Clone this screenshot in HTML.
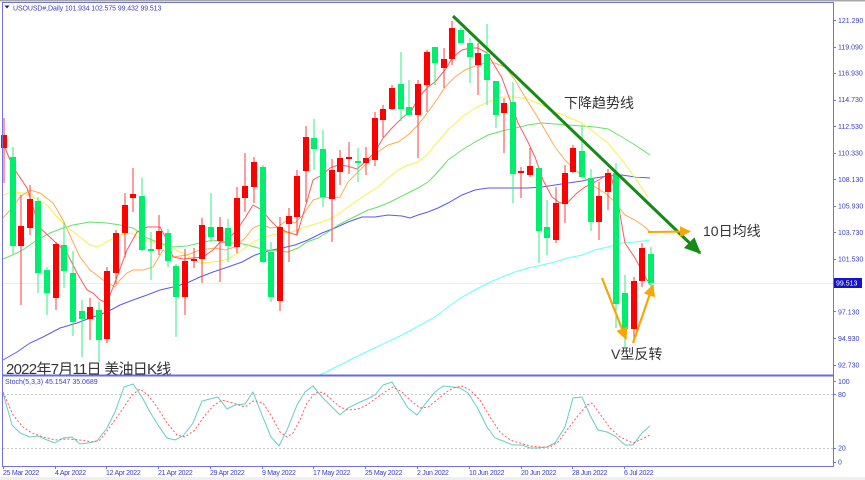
<!DOCTYPE html>
<html><head><meta charset="utf-8"><style>
html,body{margin:0;padding:0;background:#fff;}
body{width:865px;height:480px;overflow:hidden;}
svg{display:block;}
.ax{font-family:"Liberation Sans",sans-serif;font-size:7px;fill:#3c3ccc;}
.cn{font-family:"Liberation Sans","Noto Sans CJK SC",sans-serif;fill:#333;}
</style></head><body>
<svg width="865" height="480" viewBox="0 0 865 480" xmlns="http://www.w3.org/2000/svg">
<defs>
<marker id="ag" markerWidth="6" markerHeight="6" refX="5" refY="3" orient="auto" markerUnits="strokeWidth"><path d="M0,0.5 L5.5,3 L0,5.5 Z" fill="#158a15"/></marker>
<marker id="ao" markerWidth="6" markerHeight="6" refX="5" refY="3" orient="auto" markerUnits="strokeWidth"><path d="M0,0.3 L5.5,3 L0,5.7 Z" fill="#f6a800"/></marker>
</defs>
<rect x="0" y="0" width="865" height="480" fill="#fff"/>
<rect x="0" y="0" width="865" height="1.5" fill="#a8a8a8"/>
<rect x="0" y="477" width="865" height="3" fill="#efefef"/>

<!-- close price line -->
<line x1="3" y1="283.5" x2="833" y2="283.5" stroke="#e4f0f0" stroke-width="1"/>

<!-- moving averages -->
<g fill="none" stroke-width="1">
<polyline stroke="#66ffff" points="318,376 360,355 402,335 435,317 448,307 462,297 475,290 488,283 502,277 515,272 528,268 542,265 555,262 568,258 582,255 595,250 608,247 622,243 635,242 650,240"/>
<polyline stroke="#5a5aee" points="3,360 17,352 30,343 43,337 60,328 77,323 93,317 107,312 120,305 133,300 147,295 160,290 173,287 187,283 200,277 213,272 228,267 242,262 255,255 268,251 282,248 295,245 308,240 322,233 335,228 348,222 362,217 375,217 388,215 402,216 410,218 418,215 428,212 438,208 448,203 462,195 475,190 488,188 502,188 515,188 528,188 542,187 555,185 568,183 582,181 595,178 608,176 622,175 635,177 650,178"/>
<polyline stroke="#66e266" points="3,259 17,253 27,247 37,240 50,233 63,228 73,225 90,222 107,223 120,225 133,228 147,238 160,243 173,247 187,246 200,243 213,240 228,243 238,243 248,245 258,248 268,250 278,251 288,252 298,248 307,242 318,238 328,232 338,225 348,220 358,215 368,210 378,207 388,203 398,198 408,193 418,188 428,182 435,175 448,160 462,150 475,142 488,135 502,131 515,128 528,125 542,123 555,124 568,125 582,126 595,127 608,129 622,137 635,145 650,155"/>
<polyline stroke="#f8f04a" points="3,195 13,192 23,193 33,197 47,205 57,217 67,227 80,237 90,245 98,247 110,240 120,235 132,233 143,240 157,243 170,248 183,253 200,263 213,262 225,260 235,255 245,248 253,242 262,238 272,235 282,233 292,232 302,228 312,225 322,222 330,219 340,213 348,207 358,200 368,193 378,187 388,178 398,170 408,165 418,162 427,155 435,145 448,130 462,117 475,108 488,102 502,97 515,97 528,99 542,105 555,112 568,117 582,123 595,133 608,143 622,160 635,178 648,197"/>
<polyline stroke="#ffab50" points="3,218 13,207 20,197 30,190 40,193 53,203 63,220 72,240 80,257 90,270 103,280 115,287 120,280 127,273 133,270 143,270 153,267 163,250 173,257 187,255 200,250 215,248 225,250 235,247 245,238 253,228 262,224 270,228 278,227 287,220 295,223 303,215 313,200 322,197 330,198 340,197 348,182 358,172 368,162 378,152 388,145 398,142 408,135 418,125 428,112 438,98 445,87 455,77 465,70 475,66 485,63 495,63 505,67 515,80 525,97 535,113 545,130 555,147 565,160 575,170 585,178 595,187 605,193 615,202 625,215 635,220 645,227 650,232"/>
<polyline stroke="#ff5a5a" points="3,143 13,167 27,188 33,207 40,228 53,240 67,253 77,273 87,290 93,293 100,300 107,303 110,295 117,277 127,250 137,232 147,227 160,227 167,240 173,257 183,259 193,258 203,257 213,250 220,242 225,242 235,232 245,218 253,205 262,210 270,220 278,228 287,232 297,235 305,208 313,180 322,175 330,168 338,165 347,166 357,169 365,162 375,152 383,138 392,128 402,118 412,110 418,98 428,87 435,82 445,70 453,57 462,50 470,48 478,48 487,53 493,63 502,78 510,100 518,123 527,140 535,157 543,180 552,197 560,203 568,202 577,193 585,187 593,183 602,178 610,173 617,197 625,243 635,258 643,273 650,285"/>
</g>

<!-- candle wicks -->
<path stroke="#ff3a3a" stroke-width="1" fill="none" d="M4 118V183M21 195V305M30 185V235M56 242V310M90 298V340M107 267V343M116 230V284M125 193V257M133 168V212M159 215V255M185 249V315M194 248V268M202 218V283M220 217V282M237 187V253M245 153V212M254 157V203M280 217V311M289 208V262M297 170V235M306 126V202M332 159V242M340 150V185M349 142V174M366 147V175M375 112V166M383 105V137M392 85V110M418 80V158M427 50V112M444 48V88M452 21V65M478 43V95M504 98V153M521 167V198M530 148V177M556 187V243M565 165V223M573 145V173M599 182V240M608 169V210M634 277V343M642 243V287"/>
<path stroke="#30ee80" stroke-width="1" fill="none" d="M13 147V254M38 197V293M47 267V315M64 222V288M73 251V336M82 300V357M99 302V362M142 178V251M151 232V280M168 229V267M176 264V337M211 193V242M228 219V262M263 165V263M271 242V302M314 119V170M323 130V207M358 148V182M401 52V121M409 80V115M435 47V85M461 28V43M470 38V83M487 24V105M496 81V128M513 82V203M539 167V263M547 200V255M582 125V177M591 169V231M616 163V328M625 275V347M651 247V287"/>

<!-- red bodies -->
<g fill="#ff0000">
<rect x="1" y="135" width="6" height="13"/>
<rect x="18" y="226" width="6" height="20"/>
<rect x="27" y="199" width="6" height="29"/>
<rect x="53" y="244" width="6" height="54"/>
<rect x="87" y="307" width="6" height="12"/>
<rect x="104" y="271" width="6" height="68"/>
<rect x="113" y="233" width="6" height="40"/>
<rect x="122" y="205" width="6" height="28"/>
<rect x="130" y="194" width="6" height="4"/>
<rect x="156" y="231" width="6" height="18"/>
<rect x="182" y="261" width="6" height="36"/>
<rect x="191" y="259" width="6" height="2"/>
<rect x="199" y="225" width="6" height="34"/>
<rect x="217" y="227" width="6" height="14"/>
<rect x="234" y="198" width="6" height="49"/>
<rect x="242" y="186" width="6" height="12"/>
<rect x="251" y="162" width="6" height="25"/>
<rect x="277" y="227" width="6" height="74"/>
<rect x="286" y="216" width="6" height="8"/>
<rect x="294" y="176" width="6" height="41"/>
<rect x="303" y="137" width="6" height="34"/>
<rect x="329" y="170" width="6" height="29"/>
<rect x="337" y="158" width="6" height="14"/>
<rect x="346" y="157" width="6" height="2"/>
<rect x="363" y="158" width="6" height="5"/>
<rect x="372" y="118" width="6" height="42"/>
<rect x="380" y="109" width="6" height="11"/>
<rect x="389" y="88" width="6" height="21"/>
<rect x="415" y="84" width="6" height="31"/>
<rect x="424" y="52" width="6" height="33"/>
<rect x="441" y="59" width="6" height="9"/>
<rect x="449" y="28" width="6" height="31"/>
<rect x="475" y="53" width="6" height="12"/>
<rect x="501" y="103" width="6" height="10"/>
<rect x="518" y="171" width="6" height="2"/>
<rect x="527" y="166" width="6" height="9"/>
<rect x="553" y="203" width="6" height="37"/>
<rect x="562" y="173" width="6" height="31"/>
<rect x="570" y="148" width="6" height="24"/>
<rect x="596" y="196" width="6" height="26"/>
<rect x="605" y="173" width="6" height="19"/>
<rect x="631" y="281" width="6" height="48"/>
<rect x="639" y="248" width="6" height="33"/>
</g>
<!-- green bodies -->
<g fill="#00ee6e">
<rect x="10" y="157" width="6" height="89"/>
<rect x="35" y="201" width="6" height="72"/>
<rect x="44" y="270" width="6" height="23"/>
<rect x="61" y="245" width="6" height="26"/>
<rect x="70" y="273" width="6" height="49"/>
<rect x="79" y="311" width="6" height="8"/>
<rect x="96" y="310" width="6" height="30"/>
<rect x="139" y="196" width="6" height="54"/>
<rect x="148" y="249" width="6" height="2"/>
<rect x="165" y="233" width="6" height="28"/>
<rect x="173" y="266" width="6" height="31"/>
<rect x="208" y="227" width="6" height="10"/>
<rect x="225" y="228" width="6" height="18"/>
<rect x="260" y="167" width="6" height="95"/>
<rect x="268" y="252" width="6" height="45"/>
<rect x="311" y="138" width="6" height="11"/>
<rect x="320" y="149" width="6" height="48"/>
<rect x="355" y="161" width="6" height="2"/>
<rect x="398" y="84" width="6" height="25"/>
<rect x="406" y="107" width="6" height="8"/>
<rect x="432" y="47" width="6" height="16"/>
<rect x="458" y="30" width="6" height="13"/>
<rect x="467" y="43" width="6" height="14"/>
<rect x="484" y="54" width="6" height="26"/>
<rect x="493" y="81" width="6" height="34"/>
<rect x="510" y="102" width="6" height="72"/>
<rect x="536" y="168" width="6" height="63"/>
<rect x="544" y="227" width="6" height="11"/>
<rect x="579" y="151" width="6" height="26"/>
<rect x="588" y="178" width="6" height="44"/>
<rect x="613" y="173" width="6" height="131"/>
<rect x="622" y="293" width="6" height="36"/>
<rect x="648" y="254" width="6" height="29"/>
</g>

<!-- trend line -->
<line x1="453" y1="16" x2="700" y2="253" stroke="#158a15" stroke-width="3" marker-end="url(#ag)"/>
<!-- orange arrows -->
<line x1="648" y1="232" x2="690" y2="231.5" stroke="#f6a800" stroke-width="2" marker-end="url(#ao)"/>
<line x1="602" y1="278" x2="626" y2="339" stroke="#f6a800" stroke-width="2.2" marker-end="url(#ao)"/>
<line x1="633" y1="343" x2="653" y2="285" stroke="#f6a800" stroke-width="2.2" marker-end="url(#ao)"/>

<!-- annotations -->
<text class="cn" x="564" y="108" font-size="14">下降趋势线</text>
<text class="cn" x="703" y="236" font-size="14">10日均线</text>
<text class="cn" x="611" y="359" font-size="14">V型反转</text>
<text class="cn" x="6" y="374" font-size="15" letter-spacing="-0.75">2022年7月11日 美油日K线</text>

<!-- header -->
<path d="M4.5 5.5 L9.5 5.5 L7 8.5 Z" fill="#1a1a99"/>
<text class="ax" x="13" y="10.5" letter-spacing="-0.1">USOUSD#,Daily  101.934 102.575 99.432 99.513</text>

<!-- stochastic panel -->
<line x1="3" y1="394.5" x2="833" y2="394.5" stroke="#c8c8c8" stroke-width="1" stroke-dasharray="2,2"/>
<line x1="3" y1="448.5" x2="833" y2="448.5" stroke="#c8c8c8" stroke-width="1" stroke-dasharray="2,2"/>
<polyline fill="none" stroke="#66cec4" stroke-width="1" points="3,393 12,425 20,433 30,437 38,436 47,440 55,443 63,438 72,437 80,444 88,443 97,441 107,428 115,412 124,387 133,384 142,397 150,412 158,425 167,438 175,440 183,436 193,423 202,401 210,399 218,397 227,409 235,405 245,404 253,392 262,415 271,437 279,446 287,430 297,405 305,392 313,386 322,397 332,407 340,415 348,408 358,403 367,399 375,395 383,385 392,382 400,395 408,408 417,415 426,403 435,392 443,386 453,387 460,388 468,393 477,407 487,427 495,438 503,441 513,445 522,445 530,448 538,448 547,447 555,443 565,427 573,398 582,397 590,415 598,430 607,432 615,436 625,445 633,445 642,433 650,426"/>
<polyline fill="none" stroke="#ff5a5a" stroke-width="1" stroke-dasharray="2,2" points="3,392 13,415 23,427 32,433 43,437 55,440 67,439 80,440 93,442 100,440 110,427 122,410 132,395 140,389 148,395 157,407 167,423 177,435 185,437 195,430 203,418 213,406 222,400 233,403 245,407 253,401 263,403 272,417 280,432 287,437 293,433 300,420 307,403 315,393 323,392 332,400 340,407 348,410 358,409 367,405 375,399 385,392 393,387 402,392 410,400 420,408 428,407 437,400 445,393 453,388 462,386 470,390 480,400 490,417 500,432 510,440 520,443 530,446 540,447 550,447 558,442 567,430 577,417 587,405 592,403 600,414 610,428 620,437 633,443 642,439 650,435"/>
<text class="ax" x="5" y="384">Stoch(5,3,3) 45.1547 35.0689</text>

<!-- frames -->
<rect x="2.5" y="2.5" width="831" height="464" fill="none" stroke="#7272e2" stroke-width="1"/>
<line x1="2" y1="375.5" x2="834" y2="375.5" stroke="#6a6ae0" stroke-width="2"/>

<!-- price axis -->
<g stroke="#7272e2" stroke-width="1">
<path d="M833 20.5h3M833 47.5h3M833 73.5h3M833 100.5h3M833 126.5h3M833 153.5h3M833 179.5h3M833 206.5h3M833 232.5h3M833 259.5h3M833 311.5h3M833 338.5h3M833 365.5h3M833 381.5h3M833 394.5h3M833 448.5h3M833 462.5h3"/>
<path d="M3.5 466v3M55.5 466v3M106.5 466v3M158.5 466v3M210.5 466v3M262.5 466v3M313.5 466v3M365.5 466v3M417.5 466v3M469.5 466v3M521.5 466v3M572.5 466v3M624.5 466v3"/>
</g>
<g class="ax">
<text x="838" y="23.2">121.290</text>
<text x="838" y="49.7">119.090</text>
<text x="838" y="75.7">116.930</text>
<text x="838" y="102.2">114.730</text>
<text x="838" y="128.8">112.530</text>
<text x="838" y="155.3">110.330</text>
<text x="838" y="181.8">108.130</text>
<text x="838" y="208.3">105.930</text>
<text x="838" y="234.8">103.730</text>
<text x="838" y="261.3">101.530</text>
<text x="838" y="314.3">97.130</text>
<text x="838" y="340.8">94.930</text>
<text x="838" y="367.4">92.730</text>
<text x="838" y="384.2">100</text>
<text x="838" y="397">80</text>
<text x="838" y="450.5">20</text>
<text x="838" y="464.5">0</text>
</g>
<rect x="834" y="278" width="28" height="10" fill="#1414c8"/>
<text x="836" y="285.6" font-family="Liberation Sans, sans-serif" font-size="7" fill="#fff">99.513</text>

<!-- date axis -->
<g class="ax" letter-spacing="-0.3">
<text x="3" y="475">25 Mar 2022</text>
<text x="55" y="475">4 Apr 2022</text>
<text x="106" y="475">12 Apr 2022</text>
<text x="158" y="475">21 Apr 2022</text>
<text x="210" y="475">29 Apr 2022</text>
<text x="262" y="475">9 May 2022</text>
<text x="313" y="475">17 May 2022</text>
<text x="365" y="475">25 May 2022</text>
<text x="417" y="475">2 Jun 2022</text>
<text x="469" y="475">10 Jun 2022</text>
<text x="521" y="475">20 Jun 2022</text>
<text x="572" y="475">28 Jun 2022</text>
<text x="624" y="475">6 Jul 2022</text>
</g>
</svg>
</body></html>
